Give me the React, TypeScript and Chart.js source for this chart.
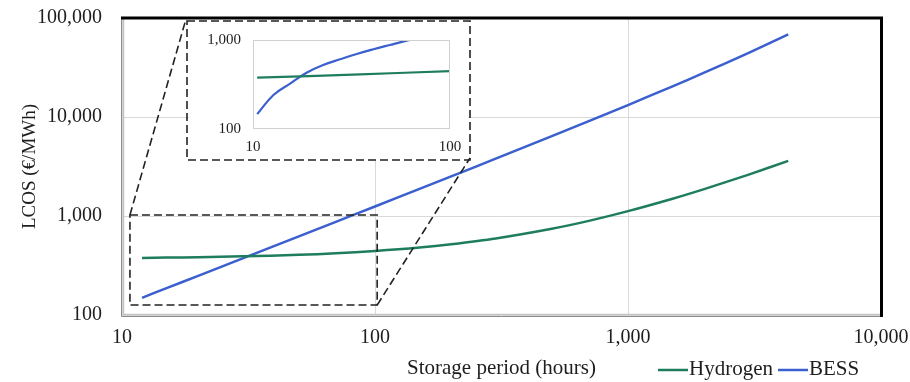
import React, { useEffect, useRef } from "react";
import { Chart, registerables } from "chart.js";

Chart.register(...registerables);

// ---- Main chart data ----
const hours = [12, 15, 20, 30, 50, 70, 100, 150, 200, 300, 500, 700, 1000, 1500, 2000, 3000, 4300];
const hydrogen = [377, 380, 383, 391, 405, 420, 443, 480, 518, 593, 743, 893, 1120, 1495, 1870, 2620, 3600];
const bess = [149, 187, 248, 373, 622, 872, 1248, 1878, 2512, 3793, 6403, 9077, 13210, 20420, 28040, 44500, 68300];

const xTicks = [10, 100, 1000, 10000];
const yTicks = [100, 1000, 10000, 100000];

// ---- Inset (zoom) data ----
const insetBessHours = [10.5, 12.7, 15.5, 18.7, 22.7, 27.7, 33.6, 40.8, 49.5, 60.2, 62.7];
const insetBess = [147, 241, 326, 429, 524, 607, 696, 786, 879, 982, 1000];
const insetH2Hours = [10.5, 35, 100];
const insetHydrogen = [377, 410, 448];
const insetXTicks = [10, 100];
const insetYTicks = [100, 1000];

// zoomed data range marked on the main chart
const zoomXMin = 10.75;
const zoomXMax = 102;
const zoomYMin = 126;
const zoomYMax = 1025;

const seriesNames = ["Hydrogen", "BESS"];
const GREEN = "#1f7d5f";
const BLUE = "#3b5fcf";
const FONT = "'Liberation Serif', 'Times New Roman', serif";
const TEXT = "#1e1e1e";

// inset box layout (page pixels)
const INSET_BOX = { left: 187, top: 21, right: 470, bottom: 160 };

const fmt = (v: any) => Number(v).toLocaleString("en-US");

const pts = (xs: number[], ys: number[]) => xs.map((x, i) => ({ x, y: ys[i] }));

const noPad = (s: any) => {
  s.paddingTop = 0;
  s.paddingBottom = 0;
  s.paddingLeft = 0;
  s.paddingRight = 0;
};

const mainDecor = {
  id: "mainDecor",
  afterDraw(chart: any) {
    const { ctx, chartArea: a, scales } = chart;
    ctx.save();
    // left & bottom grey double border
    ctx.lineWidth = 1;
    ctx.strokeStyle = "#8c8c8c";
    ctx.beginPath();
    ctx.moveTo(a.left - 0.5, a.top);
    ctx.lineTo(a.left - 0.5, a.bottom + 1.5);
    ctx.lineTo(a.right, a.bottom + 1.5);
    ctx.stroke();
    ctx.strokeStyle = "#c4c4c4";
    ctx.lineWidth = 1.5;
    ctx.beginPath();
    ctx.moveTo(a.left + 1.5, a.top);
    ctx.lineTo(a.left + 1.5, a.bottom - 0.5);
    ctx.lineTo(a.right, a.bottom - 0.5);
    ctx.stroke();
    // top & right black border
    ctx.strokeStyle = "#000";
    ctx.lineWidth = 3;
    ctx.beginPath();
    ctx.moveTo(a.left - 1, a.top);
    ctx.lineTo(a.right + 0.5, a.top);
    ctx.lineTo(a.right + 0.5, a.bottom + 2);
    ctx.stroke();

    // zoom box
    const x0 = scales.x.getPixelForValue(zoomXMin);
    const x1 = scales.x.getPixelForValue(zoomXMax);
    const y0 = scales.y.getPixelForValue(zoomYMax);
    const y1 = scales.y.getPixelForValue(zoomYMin);
    ctx.setLineDash([8, 4]);
    ctx.lineWidth = 1.6;
    ctx.strokeStyle = "#222";
    ctx.strokeRect(x0, y0, x1 - x0, y1 - y0);
    // inset box
    ctx.strokeRect(
      INSET_BOX.left,
      INSET_BOX.top,
      INSET_BOX.right - INSET_BOX.left,
      INSET_BOX.bottom - INSET_BOX.top
    );
    // connectors
    ctx.beginPath();
    ctx.moveTo(x0, y0);
    ctx.lineTo(INSET_BOX.left - 1, INSET_BOX.top - 2);
    ctx.moveTo(x1, y1);
    ctx.lineTo(INSET_BOX.right, INSET_BOX.bottom - 2);
    ctx.stroke();
    ctx.setLineDash([]);

    // legend
    const ly = 370;
    let lx = 658;
    ctx.font = `21px ${FONT}`;
    ctx.textBaseline = "middle";
    ctx.textAlign = "left";
    chart.data.datasets.forEach((ds: any) => {
      ctx.strokeStyle = ds.borderColor;
      ctx.lineWidth = 2.5;
      ctx.beginPath();
      ctx.moveTo(lx, ly);
      ctx.lineTo(lx + 30, ly);
      ctx.stroke();
      ctx.fillStyle = TEXT;
      ctx.fillText(ds.label, lx + 31, ly - 1);
      lx = lx + 31 + ctx.measureText(ds.label).width + 5;
    });
    ctx.restore();
  },
};

const insetDecor = {
  id: "insetDecor",
  beforeDraw(chart: any) {
    const { ctx, width, height } = chart;
    ctx.save();
    ctx.fillStyle = "#fff";
    ctx.fillRect(0, 0, width, height);
    ctx.restore();
  },
  afterDraw(chart: any) {
    const { ctx, chartArea: a } = chart;
    ctx.save();
    ctx.strokeStyle = "#d0d0d0";
    ctx.lineWidth = 1;
    ctx.strokeRect(a.left + 0.5, a.top + 0.5, a.right - a.left - 1, a.bottom - a.top - 1);
    ctx.restore();
  },
};

export default function App() {
  const mainRef = useRef<HTMLCanvasElement>(null);
  const insetRef = useRef<HTMLCanvasElement>(null);

  useEffect(() => {
    const main = new Chart(mainRef.current as HTMLCanvasElement, {
      type: "line",
      data: {
        datasets: [
          {
            label: seriesNames[0],
            data: pts(hours, hydrogen),
            borderColor: GREEN,
            backgroundColor: GREEN,
            borderWidth: 2.5,
            pointRadius: 0,
            tension: 0.3,
          },
          {
            label: seriesNames[1],
            data: pts(hours, bess),
            borderColor: BLUE,
            backgroundColor: BLUE,
            borderWidth: 2.5,
            pointRadius: 0,
            tension: 0.3,
          },
        ],
      },
      options: {
        animation: false,
        responsive: false,
        maintainAspectRatio: false,
        layout: { padding: { top: 18, right: 29, left: 0, bottom: 0 } },
        plugins: { legend: { display: false }, tooltip: { enabled: false } },
        scales: {
          x: {
            type: "logarithmic",
            min: 10,
            max: 10000,
            afterBuildTicks: (s: any) => {
              s.ticks = xTicks.map((v) => ({ value: v }));
            },
            afterFit: (s: any) => {
              s.height = 67;
              noPad(s);
            },
            ticks: {
              callback: fmt,
              font: { family: FONT, size: 20 },
              color: TEXT,
              padding: 11,
              maxRotation: 0,
              autoSkip: false,
            },
            grid: { color: "#d9d9d9", lineWidth: 1, drawTicks: false },
            border: { display: false },
            title: {
              display: true,
              text: "Storage period (hours)",
              font: { family: FONT, size: 21 },
              color: TEXT,
              padding: { top: 0, bottom: 1 },
            },
          },
          y: {
            type: "logarithmic",
            min: 100,
            max: 100000,
            afterBuildTicks: (s: any) => {
              s.ticks = yTicks.map((v) => ({ value: v }));
            },
            afterFit: (s: any) => {
              s.width = 122;
              noPad(s);
            },
            ticks: {
              callback: fmt,
              font: { family: FONT, size: 20 },
              color: TEXT,
              padding: 20,
              autoSkip: false,
            },
            grid: { color: "#d9d9d9", lineWidth: 1, drawTicks: false },
            border: { display: false },
            title: {
              display: true,
              text: "LCOS (€/MWh)",
              font: { family: FONT, size: 19 },
              color: TEXT,
              padding: { top: 19, bottom: 0 },
            },
          },
        },
      },
      plugins: [mainDecor],
    });

    const inset = new Chart(insetRef.current as HTMLCanvasElement, {
      type: "line",
      data: {
        datasets: [
          {
            label: seriesNames[0],
            data: pts(insetH2Hours, insetHydrogen),
            borderColor: GREEN,
            borderWidth: 2.2,
            pointRadius: 0,
            tension: 0.2,
          },
          {
            label: seriesNames[1],
            data: pts(insetBessHours, insetBess),
            borderColor: BLUE,
            borderWidth: 2.2,
            pointRadius: 0,
            tension: 0.4,
          },
        ],
      },
      options: {
        animation: false,
        responsive: false,
        maintainAspectRatio: false,
        layout: { padding: { top: 17, right: 18, left: 0, bottom: 0 } },
        plugins: { legend: { display: false }, tooltip: { enabled: false } },
        scales: {
          x: {
            type: "logarithmic",
            min: 10,
            max: 100,
            afterBuildTicks: (s: any) => {
              s.ticks = insetXTicks.map((v) => ({ value: v }));
            },
            afterFit: (s: any) => {
              s.height = 30;
              noPad(s);
            },
            ticks: {
              callback: fmt,
              font: { family: FONT, size: 15 },
              color: TEXT,
              padding: 9,
              maxRotation: 0,
              autoSkip: false,
            },
            grid: { display: false, drawTicks: false },
            border: { display: false },
          },
          y: {
            type: "logarithmic",
            min: 100,
            max: 1000,
            afterBuildTicks: (s: any) => {
              s.ticks = insetYTicks.map((v) => ({ value: v }));
            },
            afterFit: (s: any) => {
              s.width = 64;
              noPad(s);
            },
            ticks: {
              callback: fmt,
              font: { family: FONT, size: 15 },
              color: TEXT,
              padding: 12,
              autoSkip: false,
            },
            grid: { display: false, drawTicks: false },
            border: { display: false },
          },
        },
      },
      plugins: [insetDecor],
    });

    return () => {
      main.destroy();
      inset.destroy();
    };
  }, []);

  return (
    <div style={{ position: "fixed", left: 0, top: 0, width: 910, height: 382, background: "#fff" }}>
      <canvas ref={mainRef} width={910} height={382} style={{ position: "absolute", left: 0, top: 0 }} />
      <canvas
        ref={insetRef}
        width={279}
        height={136}
        style={{ position: "absolute", left: INSET_BOX.left + 2, top: INSET_BOX.top + 2 }}
      />
    </div>
  );
}
